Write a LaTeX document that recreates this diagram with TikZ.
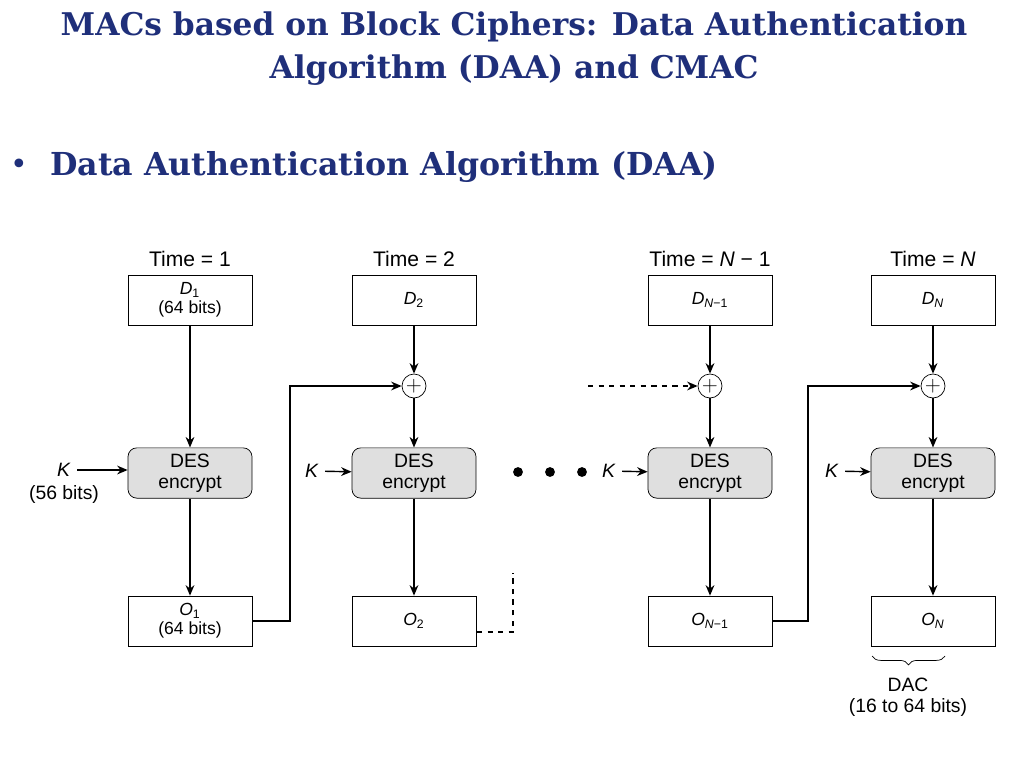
\documentclass[tikz,border=0pt]{standalone}
\usepackage{fontspec}
\setmainfont{Liberation Sans}
\newfontfamily\titlefont{DejaVu Serif}
\usetikzlibrary{positioning, arrows.meta, decorations.pathreplacing}
\definecolor{titleblue}{HTML}{1F2F7A}
\newcommand{\var}[2]{\textit{#1}\textsubscript{#2}}
\tikzset{
  block/.style={rectangle, draw, minimum width=2.48cm, minimum height=1cm, align=center, font=\fontsize{10}{11}\selectfont, inner sep=1pt},
  desblock/.style={rectangle, rounded corners=5pt, draw, fill=gray!25, minimum width=2.48cm, minimum height=1cm, align=center, font=\fontsize{11}{12}\selectfont},
  xor/.style={circle, draw, inner sep=0pt, minimum size=0.48cm, font=\fontsize{12}{12}\selectfont},
  arrow/.style={-{Stealth[length=6pt, width=5pt]}, thick},
  dashedarrow/.style={-{Stealth[length=6pt, width=5pt]}, thick, dashed},
  timelabel/.style={font=\fontsize{12}{13}\selectfont},
  keylabel/.style={font=\fontsize{11}{12}\selectfont},
}
\begin{document}
\begin{tikzpicture}[x=0.02cm, y=-0.02cm]
  \useasboundingbox (0,0) rectangle (1024,768);

  % Title
  \node[font=\titlefont\bfseries\fontsize{17.8}{24.5}\selectfont, text=titleblue, align=center] (title) at (514,49)
    {MACs based on Block Ciphers: Data Authentication\\Algorithm (DAA) and CMAC};
  \node[font=\titlefont\fontsize{17}{18}\selectfont, text=titleblue] (bullet) at (19,167) {\textbullet};
  \node[font=\titlefont\bfseries\fontsize{18}{20}\selectfont, text=titleblue, anchor=west] (subtitle) at (44,167) {Data Authentication Algorithm (DAA)};

  % Time labels
  \node[timelabel] (t1) at (190,259) {Time = 1};
  \node[timelabel] (t2) at (414,259) {Time = 2};
  \node[timelabel] (t3) at (710,259) {Time = \textit{N} − 1};
  \node[timelabel] (t4) at (933,259) {Time = \textit{N}};

  % Data blocks
  \node[block] (d1) at (190,300) {\var{D}{1}\\(64 bits)};
  \node[block] (d2) at (414,300) {\var{D}{2}};
  \node[block] (d3) at (710,300) {\var{D}{\textit{N}−1}};
  \node[block] (d4) at (933,300) {\var{D}{\textit{N}}};

  % XOR
  \node[xor] (x2) at (414,386) {$+$};
  \node[xor] (x3) at (710,386) {$+$};
  \node[xor] (x4) at (933,386) {$+$};

  % DES blocks
  \foreach \i/\xx in {1/190, 2/414, 3/710, 4/933}
    \node[desblock] (des\i) at (\xx,473) {DES\\encrypt};

  % Output blocks
  \node[block] (o1) at (190,621) {\var{O}{1}\\(64 bits)};
  \node[block] (o2) at (414,621) {\var{O}{2}};
  \node[block] (o3) at (710,621) {\var{O}{\textit{N}−1}};
  \node[block] (o4) at (933,621) {\var{O}{\textit{N}}};

  % Keys
  \node[keylabel] (k1) at (64,470) {\textit{K}};
  \node[keylabel] (kbits) at (64,494) {(56 bits)};
  \node[keylabel] (k2) at (312,471) {\textit{K}};
  \node[keylabel] (k3) at (609,471) {\textit{K}};
  \node[keylabel] (k4) at (832,471) {\textit{K}};
  \draw[arrow] (k1) -- (k1 -| des1.west);
  \draw[arrow] (k2) -- (des2);
  \draw[arrow] (k3) -- (des3);
  \draw[arrow] (k4) -- (des4);

  % Vertical flow
  \draw[arrow] (d1) -- (des1);
  \draw[arrow] (des1) -- (o1);
  \foreach \i in {2,3,4} {
    \draw[arrow] (d\i) -- (x\i);
    \draw[arrow] (x\i) -- (des\i);
    \draw[arrow] (des\i) -- (o\i);
  }

  % Chaining
  \draw[arrow] (o1.east) -- (290,621) -- (290,386) -- (x2);
  \draw[arrow] (o3.east) -- (808,621) -- (808,386) -- (x4);
  \coordinate (cut) at (513,573);
  \coordinate (feed) at (588,386);
  \draw[thick, dashed] (477,632) -| (cut);
  \draw[dashedarrow] (feed) -- (x3);

  % Dots
  \foreach \xx in {518,550,582}
    \fill (\xx,472) circle (2.8pt);

  % DAC
  \draw[decorate, decoration={brace, mirror, amplitude=5pt}] (872,656) -- (945,656);
  \node[font=\fontsize{11}{12}\selectfont, align=center] (dac) at (908,697) {DAC\\(16 to 64 bits)};
\end{tikzpicture}
\end{document}
